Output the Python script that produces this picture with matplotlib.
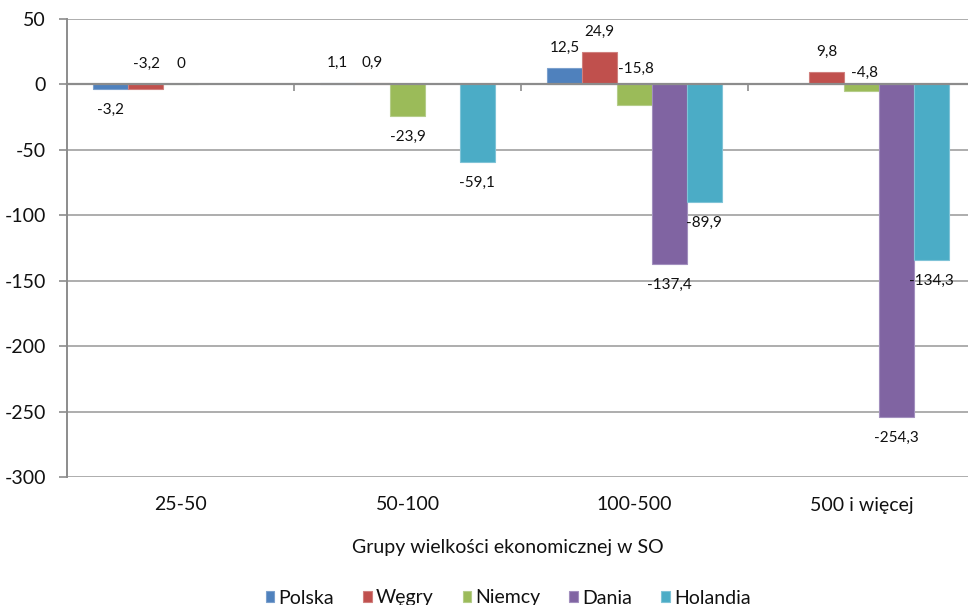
import numpy as np
import matplotlib
matplotlib.use("Agg")
import matplotlib.pyplot as plt
import matplotlib.transforms as mtransforms

plt.rcParams['font.family'] = ['Lato', 'DejaVu Sans']

# ---- data ----
categories = ["25-50", "50-100", "100-500", "500 i więcej"]
series_names = ["Polska", "Węgry", "Niemcy", "Dania", "Holandia"]
polska = [-3.2, 1.1, 12.5, np.nan]
wegry = [-3.2, 0.9, 24.9, 9.8]
niemcy = [0.0, -23.9, -15.8, -4.8]
dania = [np.nan, np.nan, -137.4, -254.3]
holandia = [np.nan, -59.1, -89.9, -134.3]
y_ticks = [50, 0, -50, -100, -150, -200, -250, -300]
x_title = "Grupy wielkości ekonomicznej w SO"

series = [polska, wegry, niemcy, dania, holandia]
colors = ["#4F81BD", "#C0504D", "#9BBB59", "#8064A2", "#4BACC6"]
edges = ["#7BA0CD", "#D0807E", "#B5CD8A", "#A28FBE", "#7FC3D7"]

W, H = 968, 605
fig = plt.figure(figsize=(W / 100, H / 100), dpi=100)
left, right, top, bottom = 67, 975, 19, 477
ax = fig.add_axes([left / W, 1 - bottom / H, (right - left) / W, (bottom - top) / H])

bw = 0.154
x = np.arange(len(categories))
grid_c = "#A0A0A0"
axis_c = "#8C8C8C"
txt_c = "#111111"

ax.set_ylim(-300, 50)
ax.set_xlim(-0.5, len(categories) - 0.5)
ax.set_yticks(y_ticks)
ax.set_yticklabels([str(v) for v in y_ticks], fontsize=14, color=txt_c)
ax.yaxis.grid(True, color=grid_c, linewidth=1.2)
ax.set_axisbelow(True)
ax.tick_params(axis='y', length=6, width=1.2, color=axis_c, pad=9)

for s in ['top', 'right']:
    ax.spines[s].set_visible(False)
ax.spines['left'].set_color(axis_c)
ax.spines['left'].set_linewidth(1.4)
ax.spines['bottom'].set_position(('data', 0))
ax.spines['bottom'].set_color(axis_c)
ax.spines['bottom'].set_linewidth(1.6)
ax.spines['bottom'].set_zorder(5)
ax.set_xticks(np.arange(len(categories) - 1) + 0.5)
ax.set_xticklabels([])
ax.tick_params(axis='x', length=5, width=1.2, color=axis_c, direction='out')

handles = []
for i, (name, vals) in enumerate(zip(series_names, series)):
    vals = np.array(vals, dtype=float)
    xs = x + (i - 2) * bw
    mask = ~np.isnan(vals)
    b = ax.bar(xs[mask], vals[mask], width=bw, color=colors[i],
               edgecolor=edges[i], linewidth=0.8, label=name, zorder=3)
    handles.append(b)

# label placement: (series, category) -> (anchor at zero?, dx px, dy px)
overrides = {
    (1, 0): (True, 1, 21),
    (2, 2): (True, 1, 16),
    (2, 3): (True, 3, 12),
}
for i, vals in enumerate(series):
    for j, v in enumerate(vals):
        if np.isnan(v):
            continue
        xc = j + (i - 2) * bw
        if (i, j) in overrides:
            zero, dx, dy = overrides[(i, j)]
            ya = 0.0
        else:
            dx = 0
            ya = v
            dy = 20 if v >= 0 else -21
        txt = ("%g" % v).replace(".", ",")
        if v == 0:
            txt = "0"
        ax.annotate(txt, (xc, ya), xytext=(dx, dy), textcoords='offset pixels',
                    ha='center', va='center', fontsize=11, color=txt_c,
                    zorder=6, annotation_clip=False)

trans = mtransforms.blended_transform_factory(ax.transData, fig.transFigure)
for j, c in enumerate(categories):
    ax.text(j, 1 - 505 / H, c, transform=trans, ha='center', va='center',
            fontsize=14, color=txt_c)

fig.text(508 / W, 1 - 548 / H, x_title, ha='center', va='center',
         fontsize=14, color=txt_c)

fig.legend(handles=handles, labels=series_names, loc='center',
           bbox_to_anchor=(508 / W, 1 - 598 / H), ncol=5, frameon=False,
           fontsize=14, handlelength=0.45, handleheight=0.45,
           handletextpad=0.2, columnspacing=1.5, borderpad=0,
           labelcolor=txt_c)

fig.savefig("out.png", dpi=100)
